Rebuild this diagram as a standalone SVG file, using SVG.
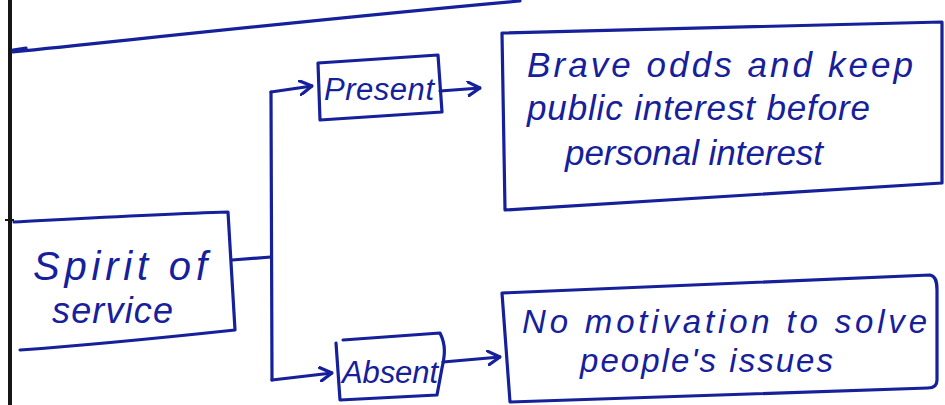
<svg xmlns="http://www.w3.org/2000/svg" width="945" height="405" viewBox="0 0 945 405">
  <style>
    .ink { fill: none; stroke: #15209a; stroke-width: 3.2; stroke-linecap: round; stroke-linejoin: round; }
    .txt { fill: #15209a; font-family: "Liberation Sans", "DejaVu Sans", sans-serif; font-style: italic; }
  </style>
  <defs>
    <marker id="chev" viewBox="0 0 14 16" refX="13" refY="8" markerWidth="14" markerHeight="16" markerUnits="userSpaceOnUse" orient="auto">
      <path d="M1,1 L13,8 L1,15" fill="none" stroke="#15209a" stroke-width="3.2" stroke-linecap="round" stroke-linejoin="round"/>
    </marker>
  </defs>

  <rect width="945" height="405" fill="#ffffff"/>

  <!-- page margin and header rule -->
  <line x1="10" y1="0" x2="10" y2="405" stroke="#161616" stroke-width="4"/>
  <line x1="5" y1="220" x2="14" y2="220" stroke="#161616" stroke-width="2"/>
  <path class="ink" d="M13,50 L26,48 M13,52 C150,38 330,18 520,1"/>

  <!-- connectors -->
  <g id="connectors">
    <path class="ink" d="M232,260 L271,257"/>
    <path class="ink" d="M271,92 L272,380"/>
    <path class="ink" d="M271,92 L312,86" marker-end="url(#chev)"/>
    <path class="ink" d="M272,380 L332,373" marker-end="url(#chev)"/>
    <path class="ink" d="M440,91 L480,88" marker-end="url(#chev)"/>
    <path class="ink" d="M443,362 L500,357" marker-end="url(#chev)"/>
  </g>

  <!-- root -->
  <g id="spirit">
    <path class="ink" d="M14,222 C90,218 160,214 228,212 L235,330 C160,338 90,345 20,350"/>
    <text class="txt" x="33" y="280" font-size="40" textLength="174" lengthAdjust="spacing">Spirit of</text>
    <text class="txt" x="52" y="323" font-size="36" textLength="121" lengthAdjust="spacing">service</text>
  </g>

  <g id="present">
    <path class="ink" d="M318,63 L438,55 L442,112 L320,120 Z"/>
    <text class="txt" x="324" y="100" font-size="31" textLength="110" lengthAdjust="spacing">Present</text>
  </g>

  <g id="absent">
    <path class="ink" d="M343,340 L440,333 C446,345 445,355 442,368 L437,395 L340,400 L336,343"/>
    <text class="txt" x="342" y="383" font-size="31" textLength="96" lengthAdjust="spacing">Absent</text>
  </g>

  <g id="present-outcome">
    <path class="ink" d="M502,33 L942,22 L942,183 L505,210 Z"/>
    <text class="txt" x="527" y="77" font-size="35" textLength="386" lengthAdjust="spacing">Brave odds and keep</text>
    <text class="txt" x="527" y="120" font-size="35" textLength="343" lengthAdjust="spacing">public interest before</text>
    <text class="txt" x="565" y="165" font-size="35" textLength="258" lengthAdjust="spacing">personal interest</text>
  </g>

  <g id="absent-outcome">
    <path class="ink" d="M502,293 L930,275 C936,276 937,282 937,290 L937,380 C937,386 933,388 928,388 L510,402 Z"/>
    <text class="txt" x="522" y="333" font-size="33" textLength="405" lengthAdjust="spacing">No motivation to solve</text>
    <text class="txt" x="580" y="372" font-size="33" textLength="253" lengthAdjust="spacing">people's issues</text>
  </g>
</svg>
